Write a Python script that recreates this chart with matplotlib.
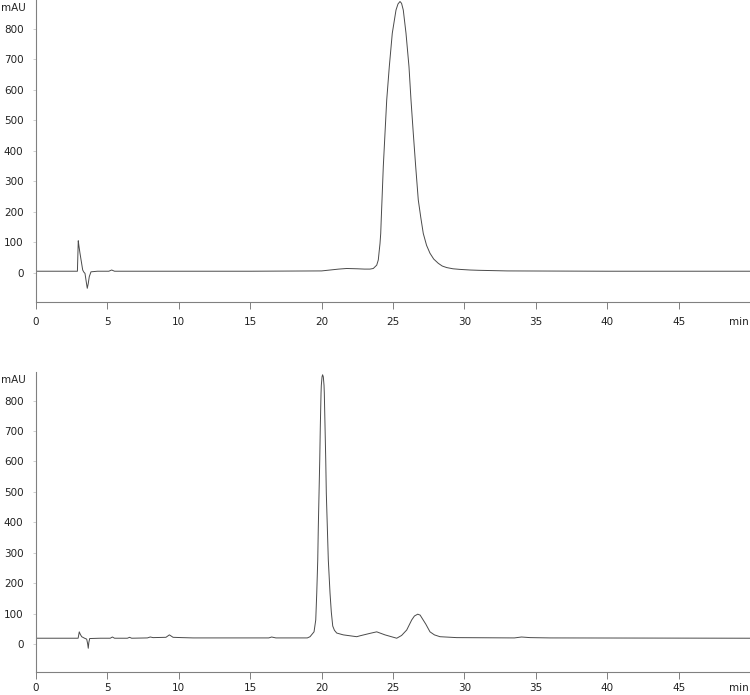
import matplotlib
matplotlib.use("Agg")
import matplotlib.pyplot as plt
import matplotlib.transforms as mtransforms

# upper chromatogram (time in min, signal in mAU)
t_top = [0, 2.9, 2.96, 3.0, 3.08, 3.18, 3.27, 3.35, 3.43, 3.52, 3.59, 3.66, 3.73, 3.85,
         4.3, 5.1, 5.3, 5.5, 6.0, 10, 15, 20, 20.6, 21.2, 21.76, 22.5, 23.0, 23.39,
         23.62, 23.86, 23.97, 24.02, 24.09, 24.14, 24.18, 24.23, 24.32, 24.44, 24.56,
         24.74, 24.95, 25.21, 25.35, 25.49, 25.6, 25.72, 25.91, 26.12, 26.26, 26.42,
         26.59, 26.77, 26.95, 27.12, 27.35, 27.59, 27.85, 28.17, 28.45, 28.76, 29.2,
         29.69, 30.39, 31, 33, 40, 50]
v_top = [5, 5, 105, 90, 64, 35, 9, 2, -2, -30, -51, -35, -13, 3,
         5, 5, 9, 5, 5, 5, 5, 6, 9, 12, 14, 13, 12, 12,
         14, 25, 42, 65, 96, 129, 180, 239, 348, 458, 567,
         676, 786, 862, 882, 890, 884, 862, 786, 676, 567, 458,
         348, 239, 180, 129, 90, 64, 45, 31, 22, 17, 13,
         11, 9, 8, 6, 5, 5]

# lower chromatogram
t_bot = [0, 2.95, 3.03, 3.1, 3.2, 3.4, 3.55, 3.62, 3.66, 3.7, 3.76, 4.5, 5.2, 5.35,
         5.5, 6.4, 6.55, 6.7, 7.8, 8.0, 8.2, 9.1, 9.34, 9.6, 10.2, 11, 16.3, 16.5,
         16.8, 19.0, 19.19, 19.47, 19.59, 19.66, 19.73, 19.77, 19.82, 19.87, 19.91,
         19.96, 19.98, 20.03, 20.07, 20.12, 20.17, 20.19, 20.24, 20.29, 20.33, 20.40,
         20.47, 20.59, 20.68, 20.78, 20.9, 21.06, 21.52, 22.46, 22.69, 23.39, 23.86,
         24.44, 25.26, 25.6, 25.96, 26.31, 26.5, 26.73, 26.9, 27.1, 27.3, 27.59, 27.9,
         28.29, 29.46, 33.5, 34.0, 34.6, 36, 50]
v_bot = [19, 19, 40, 32, 24, 19, 16, 0, -14, 5, 18, 19, 19, 23,
         19, 19, 22, 19, 20, 23, 21, 22, 30, 22, 21, 20, 20, 23,
         20, 20, 24, 40, 79, 167, 276, 386, 495, 605, 715,
         824, 850, 878, 885, 878, 850, 824, 715, 605, 495, 386,
         276, 167, 105, 59, 45, 36, 30, 24, 27, 35, 40,
         30, 19, 28, 46, 79, 92, 98, 95, 80, 65, 40, 30,
         24, 21, 20, 23, 21, 20, 19]

x_ticks = [0, 5, 10, 15, 20, 25, 30, 35, 40, 45]
y_ticks = [0, 100, 200, 300, 400, 500, 600, 700, 800]

line_col = "#4a4a4a"
axis_col = "#808080"
text_col = "#222222"

fig = plt.figure(figsize=(7.5, 6.95), dpi=100)
ax1 = fig.add_axes([36 / 750, 1 - 301.7 / 695, 714 / 750, 301.7 / 695])
ax2 = fig.add_axes([36 / 750, 1 - 672.3 / 695, 714 / 750, 300.3 / 695])

# the lower panel sits close to the figure edge, so its x labels hug the axis
panels = [(ax1, t_top, v_top, (-95, 895), 6), (ax2, t_bot, v_bot, (-93, 894), 2.5)]
for ax, t, v, ylim, xpad in panels:
    ax.plot(t, v, color=line_col, lw=0.7)
    ax.set_xlim(0, 50)
    ax.set_ylim(*ylim)
    ax.set_xticks(x_ticks)
    ax.set_yticks(y_ticks)
    for s in ["top", "right"]:
        ax.spines[s].set_visible(False)
    for s in ["left", "bottom"]:
        ax.spines[s].set_color(axis_col)
        ax.spines[s].set_linewidth(0.8)
    ax.tick_params(axis="x", direction="out", length=5, width=0.7, color=axis_col,
                   labelsize=7.5, labelcolor=text_col, pad=xpad)
    ax.tick_params(axis="y", direction="out", length=2, width=0.6, color="#c8c8c8",
                   labelsize=7.5, labelcolor=text_col, pad=7)
    ax.patch.set_alpha(0)
    trans = mtransforms.blended_transform_factory(ax.transAxes, ax.transData)
    ax.text(-35 / 714, ylim[1] - 25, "mAU", transform=trans, ha="left", va="center",
            fontsize=7.5, color=text_col)
    off = -(5 + xpad) / 72
    ax.text(49.2, ylim[0], "min", ha="center", va="top", fontsize=7.5, color=text_col,
            transform=ax.transData + mtransforms.ScaledTranslation(0, off, fig.dpi_scale_trans))

fig.savefig("out.png", dpi=100)
